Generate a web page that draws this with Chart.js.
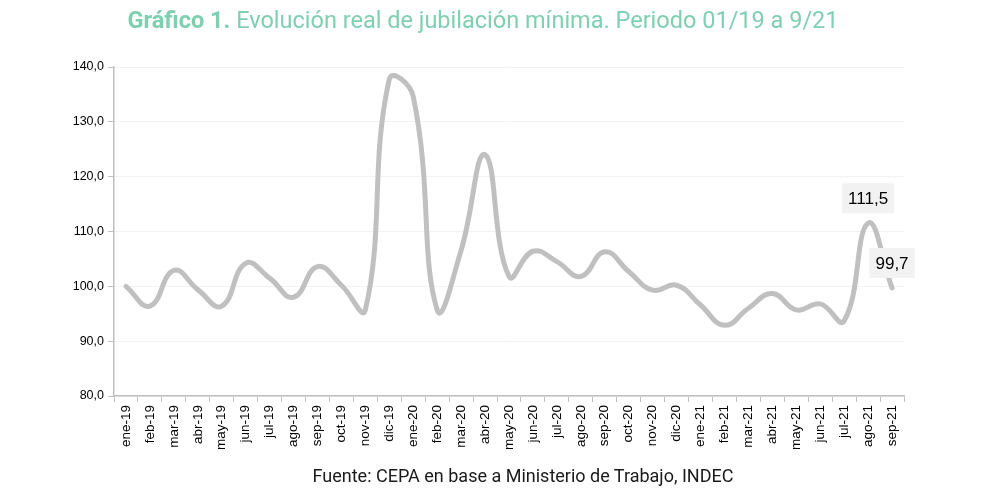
<!DOCTYPE html>
<html>
<head>
<meta charset="utf-8">
<script src="https://cdn.jsdelivr.net/npm/chart.js@4.4.1/dist/chart.umd.min.js"></script>
<style>
  html,body{margin:0;padding:0;background:#fff;}
  #wrap{position:relative;width:1000px;height:504px;overflow:hidden;}
  #title{position:absolute;left:1px;width:964px;top:6px;text-align:center;font-family:Roboto,sans-serif;font-size:23.5px;color:#7fcfb1;white-space:nowrap;}
  #title b{font-weight:700;}
  #source{position:absolute;left:41px;width:964px;top:465px;text-align:center;font-family:Roboto,sans-serif;font-size:18px;color:#1a1a1a;white-space:nowrap;}
  canvas{position:absolute;left:0;top:0;}
</style>
</head>
<body>
<div id="wrap">
  <canvas id="c" width="1000" height="504"></canvas>
  <div id="title"><b>Gráfico 1.</b> Evolución real de jubilación mínima. Periodo 01/19 a 9/21</div>
  <div id="source">Fuente: CEPA en base a Ministerio de Trabajo, INDEC</div>
</div>
<script>
const categories = ["ene-19","feb-19","mar-19","abr-19","may-19","jun-19","jul-19","ago-19","sep-19","oct-19","nov-19","dic-19",
  "ene-20","feb-20","mar-20","abr-20","may-20","jun-20","jul-20","ago-20","sep-20","oct-20","nov-20","dic-20",
  "ene-21","feb-21","mar-21","abr-21","may-21","jun-21","jul-21","ago-21","sep-21"];
const values = [100.0,96.4,102.9,99.4,96.4,104.2,101.5,98.0,103.6,100.2,95.7,137.8,
  134.6,95.7,106.6,124.0,101.8,106.4,104.5,101.8,106.3,102.7,99.3,100.2,
  96.6,92.9,96.0,98.7,95.7,96.8,93.7,111.5,99.7];
const labeledIndices = [31,32];
const yTicks = [80,90,100,110,120,130,140];

const labelPlugin = {
  id:'boxLabels',
  afterDatasetsDraw(chart){
    const ctx = chart.ctx;
    const meta = chart.getDatasetMeta(0);
    ctx.save();
    ctx.font = '17px "Liberation Sans", sans-serif';
    ctx.textAlign='center';
    ctx.textBaseline='middle';
    labeledIndices.forEach(i=>{
      const p = meta.data[i];
      const txt = values[i].toFixed(1).replace('.',',');
      const w = ctx.measureText(txt).width + 12;
      const h = 30;
      const cx = p.x, cy = p.y - 25;
      ctx.fillStyle='#f2f2f2';
      ctx.fillRect(cx-w/2, cy-h/2, w, h);
      ctx.fillStyle='#000';
      ctx.fillText(txt, cx, cy+1);
    });
    ctx.restore();
  }
};

new Chart(document.getElementById('c'), {
  type:'line',
  data:{labels:categories, datasets:[{data:values, borderColor:'#c0c0c0', borderWidth:5, pointRadius:0, tension:0.45, fill:false, borderCapStyle:'round'}]},
  options:{
    responsive:false, animation:false,
    layout:{padding:{left:0,right:96,top:67,bottom:0}},
    plugins:{legend:{display:false},tooltip:{enabled:false}},
    scales:{
      x:{
        offset:true,
        grid:{offset:true, drawOnChartArea:false, drawTicks:true, tickLength:6, tickColor:'#bfbfbf'},
        border:{color:'#bfbfbf', width:1.5},
        ticks:{autoSkip:false, maxRotation:90, minRotation:90, color:'#000', font:{family:'"Liberation Sans", sans-serif', size:13.5}, padding:3},
        afterFit(s){ s.height = 108; }
      },
      y:{
        min:80, max:140,
        afterBuildTicks(s){ s.ticks = yTicks.map(v=>({value:v})); },
        grid:{color:'#f3f3f3', tickColor:'#bfbfbf', tickLength:6, lineWidth:1},
        border:{color:'#bfbfbf', width:1.5},
        ticks:{color:'#000', font:{family:'"Liberation Sans", sans-serif', size:12.5}, padding:4,
          callback:(v)=>Number(v).toFixed(1).replace('.',',')},
        afterFit(s){ s.width = 114; }
      }
    }
  },
  plugins:[labelPlugin]
});
</script>
</body>
</html>
